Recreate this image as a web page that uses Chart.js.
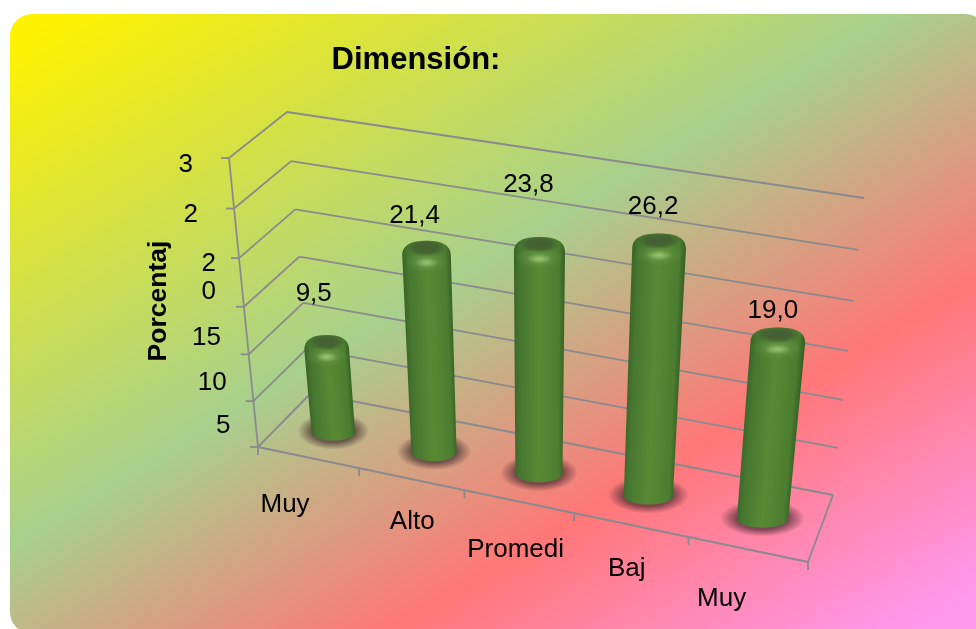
<!DOCTYPE html>
<html lang="es">
<head>
    <meta charset="UTF-8">
    <title>Dimensión</title>
    <script src="https://cdn.jsdelivr.net/npm/chart.js"></script>
    <style>
        html, body { margin: 0; padding: 0; background: #fff; }
        canvas { display: block; }
    </style>
</head>
<body>
    <canvas id="chart" width="976" height="629"></canvas>

    <script>
        const categories = ['Muy', 'Alto', 'Promedi', 'Baj', 'Muy'];
        const porcentajes = [9.5, 21.4, 23.8, 26.2, 19.0];
        const yTickValues = [5, 10, 15, 20, 25, 30];
        const yTickLabels = [['5'], ['10'], ['15'], ['2', '0'], ['2'], ['3']];
        const chartTitle = 'Dimensión:';
        const yTitle = 'Porcentaj';

        // Screen corners of the 3D box: front plane and back plane
        const frontPlane = { bl: [258, 447], br: [808, 562], tl: [229, 158], tr: [839, 270] };
        const backPlane = { bl: [311, 393], br: [833, 495], tl: [287, 112], tr: [864, 198] };
        const warpU = 1.11;
        const warpW = 1.06;
        const barDepth = 0.46;
        const barNudge = 2;

        // Hand placement of the text around the box
        const yLabelShift = [[-23, 25], [-22, 28], [-23, 31], [-23, 20], [-36, 6], [-36, 7]];
        const xLabelShift = [[-23, 47], [1, 43], [-3, 48], [-4, 44], [-26, 49]];
        const valueLabelShift = [[-13, -51], [-12, -35], [-11, -62], [-6, -37], [-5, -27]];

        const gridColor = '#8a8a8e';
        const textFont = '26px "Liberation Sans", Arial, sans-serif';

        function warp(f, c) {
            return f / (f + c * (1 - f));
        }

        function bilinear(q, a, b) {
            const bx = q.bl[0] + (q.br[0] - q.bl[0]) * a;
            const by = q.bl[1] + (q.br[1] - q.bl[1]) * a;
            const tx = q.tl[0] + (q.tr[0] - q.tl[0]) * a;
            const ty = q.tl[1] + (q.tr[1] - q.tl[1]) * a;
            return [bx + (tx - bx) * b, by + (ty - by) * b];
        }

        // u: along categories, w: height, t: depth; all 0..1
        function project(u, w, t) {
            const a = warp(u, warpU);
            const b = warp(w, warpW);
            const f = bilinear(frontPlane, a, b);
            const k = bilinear(backPlane, a, b);
            return [f[0] + (k[0] - f[0]) * t, f[1] + (k[1] - f[1]) * t];
        }

        function normU(chart, px) {
            return (px - chart.chartArea.left) / chart.chartArea.width;
        }

        function normW(chart, py) {
            return (chart.chartArea.bottom - py) / chart.chartArea.height;
        }

        function line(ctx, a, b) {
            ctx.beginPath();
            ctx.moveTo(a[0], a[1]);
            ctx.lineTo(b[0], b[1]);
            ctx.stroke();
        }

        function softEllipse(ctx, x, y, rx, ry, stops) {
            ctx.save();
            ctx.translate(x, y);
            ctx.scale(1, ry / rx);
            const grad = ctx.createRadialGradient(0, 0, 0, 0, 0, rx);
            stops.forEach(function (s) { grad.addColorStop(s[0], s[1]); });
            ctx.fillStyle = grad;
            ctx.beginPath();
            ctx.arc(0, 0, rx, 0, Math.PI * 2);
            ctx.fill();
            ctx.restore();
        }

        function drawBackground(ctx) {
            const grad = ctx.createLinearGradient(21, 34, 519, 865);
            grad.addColorStop(0, '#fff200');
            grad.addColorStop(0.448, '#a8d08d');
            grad.addColorStop(0.724, '#ff7777');
            grad.addColorStop(1, '#ff99ee');
            ctx.fillStyle = grad;
            ctx.beginPath();
            ctx.roundRect(10, 14, 977, 620, 22);
            ctx.fill();
        }

        function drawBox(chart) {
            const ctx = chart.ctx;
            const yScale = chart.scales.y;
            ctx.save();
            ctx.strokeStyle = gridColor;
            ctx.lineWidth = 1.8;

            // wall lines for every value tick
            [0].concat(yTickValues).forEach(function (v) {
                const w = normW(chart, yScale.getPixelForValue(v));
                const corner = project(0, w, 1);
                const front = project(0, w, 0);
                line(ctx, front, corner);
                line(ctx, corner, project(1, w, 1));
                line(ctx, front, [front[0] - 8, front[1]]);
            });

            // left upright and floor outline
            line(ctx, project(0, 0, 0), project(0, 1, 0));
            line(ctx, project(0, 0, 0), project(1, 0, 0));
            line(ctx, project(1, 0, 0), project(1, 0, 1));

            // category tick marks along the front edge
            for (let i = 0; i <= categories.length; i++) {
                const p = project(i / categories.length, 0, 0);
                line(ctx, p, [p[0], p[1] + 8]);
            }
            ctx.restore();
        }

        function barShape(chart, bar) {
            const uL = normU(chart, bar.x - bar.width / 2);
            const uR = normU(chart, bar.x + bar.width / 2);
            const uC = normU(chart, bar.x);
            const w = normW(chart, bar.y);
            const hw0 = (project(uR, 0, barDepth)[0] - project(uL, 0, barDepth)[0]) / 2;
            const hw1 = (project(uR, w, barDepth)[0] - project(uL, w, barDepth)[0]) / 2;
            const base = project(uC, 0, barDepth);
            const top = project(uC, w, barDepth);
            return {
                base: [base[0] + barNudge, base[1]],
                top: [top[0] + barNudge, top[1]],
                hw0: hw0,
                hw1: hw1
            };
        }

        function drawBarShadow(ctx, s) {
            softEllipse(ctx, s.base[0], s.base[1] - 1, s.hw0 * 1.65, 18.5, [
                [0, 'rgba(55,35,40,0.8)'],
                [0.62, 'rgba(55,35,40,0.62)'],
                [1, 'rgba(55,35,40,0)']
            ]);
        }

        function drawBar(ctx, s) {
            const capH = 10;
            const x0 = s.base[0], y0 = s.base[1];
            const x1 = s.top[0], y1 = s.top[1];

            ctx.save();
            ctx.beginPath();
            ctx.moveTo(x0 - s.hw0, y0);
            ctx.lineTo(x1 - s.hw1, y1 + 5);
            ctx.bezierCurveTo(x1 - s.hw1, y1 - capH * 0.6, x1 - s.hw1 * 0.62, y1 - capH, x1, y1 - capH);
            ctx.bezierCurveTo(x1 + s.hw1 * 0.62, y1 - capH, x1 + s.hw1, y1 - capH * 0.6, x1 + s.hw1, y1 + 5);
            ctx.lineTo(x0 + s.hw0, y0);
            ctx.ellipse(x0, y0, s.hw0, 8.5, 0, 0, Math.PI);
            ctx.closePath();
            ctx.clip();

            // body shading follows the lean of the cylinder
            ctx.save();
            const lean = (x1 - x0) / (y1 - y0);
            ctx.transform(1, 0, lean, 1, -lean * y0, 0);
            const shade = ctx.createLinearGradient(x0 - s.hw1, 0, x0 + s.hw1, 0);
            shade.addColorStop(0, '#3a6527');
            shade.addColorStop(0.12, '#477630');
            shade.addColorStop(0.5, '#588a35');
            shade.addColorStop(0.88, '#4c7d30');
            shade.addColorStop(1, '#375f24');
            ctx.fillStyle = shade;
            ctx.fillRect(x0 - 80, y1 - capH - 4, 160, y0 - y1 + capH + 20);
            ctx.restore();

            // lit band under the rim, then the dark disc on the top face
            softEllipse(ctx, x1, y1 + 11, s.hw1 * 0.95, 11, [
                [0, 'rgba(120,170,85,0.55)'],
                [1, 'rgba(120,170,85,0)']
            ]);
            softEllipse(ctx, x1, y1 + 12, s.hw1 * 0.5, 5, [
                [0, 'rgba(160,205,125,0.85)'],
                [1, 'rgba(160,205,125,0)']
            ]);
            softEllipse(ctx, x1, y1 - capH + 7, s.hw1 * 0.8, 9, [
                [0, 'rgba(66,92,50,0.95)'],
                [0.6, 'rgba(66,92,50,0.8)'],
                [1, 'rgba(66,92,50,0)']
            ]);

            ctx.restore();
        }

        function drawText(ctx, text, x, y) {
            ctx.fillText(text, x, y);
        }

        const box3d = {
            id: 'box3d',
            beforeDraw: function (chart) {
                drawBackground(chart.ctx);
            },
            beforeDatasetsDraw: function (chart) {
                drawBox(chart);
            },
            // the bars are drawn here through the box projection instead of flat
            beforeDatasetDraw: function (chart, args) {
                const ctx = chart.ctx;
                const shapes = args.meta.data.map(function (bar) {
                    return barShape(chart, bar);
                });
                shapes.forEach(function (s) { drawBarShadow(ctx, s); });
                shapes.forEach(function (s) { drawBar(ctx, s); });
                return false;
            },
            afterDatasetsDraw: function (chart) {
                const ctx = chart.ctx;
                const yScale = chart.scales.y;
                const bars = chart.getDatasetMeta(0).data;
                ctx.save();
                ctx.fillStyle = '#000';
                ctx.font = textFont;
                ctx.textAlign = 'center';
                ctx.textBaseline = 'middle';

                // value labels above the bars
                bars.forEach(function (bar, i) {
                    const s = barShape(chart, bar);
                    const text = porcentajes[i].toFixed(1).replace('.', ',');
                    drawText(ctx, text, s.top[0] + valueLabelShift[i][0], s.top[1] + valueLabelShift[i][1]);
                });

                // category labels under the front edge
                categories.forEach(function (name, i) {
                    const p = project((i + 0.5) / categories.length, 0, 0);
                    drawText(ctx, name, p[0] + xLabelShift[i][0], p[1] + xLabelShift[i][1]);
                });

                // value axis labels, some of them wrapped over two lines
                ctx.textAlign = 'right';
                yTickValues.forEach(function (v, i) {
                    const p = project(0, normW(chart, yScale.getPixelForValue(v)), 0);
                    yTickLabels[i].forEach(function (part, j) {
                        const off = (j - (yTickLabels[i].length - 1) / 2) * 28;
                        drawText(ctx, part, p[0] + yLabelShift[i][0], p[1] + yLabelShift[i][1] + off);
                    });
                });

                // rotated axis title
                ctx.save();
                ctx.translate(159, 301);
                ctx.rotate(-Math.PI / 2);
                ctx.textAlign = 'center';
                ctx.font = 'bold 26.5px "Liberation Sans", Arial, sans-serif';
                drawText(ctx, yTitle, 0, 0);
                ctx.restore();

                ctx.restore();
            }
        };

        new Chart(document.getElementById('chart'), {
            type: 'bar',
            data: {
                labels: categories,
                datasets: [{
                    label: yTitle,
                    data: porcentajes,
                    backgroundColor: '#588a35',
                    barPercentage: 0.44,
                    categoryPercentage: 1
                }]
            },
            options: {
                responsive: false,
                animation: false,
                devicePixelRatio: 1,
                layout: { padding: { right: 144 } },
                plugins: {
                    legend: { display: false },
                    tooltip: { enabled: false },
                    title: {
                        display: true,
                        text: chartTitle,
                        fullSize: false,
                        color: '#000',
                        font: { family: '"Liberation Sans", Arial, sans-serif', size: 31, weight: 'bold' },
                        padding: { top: 42, bottom: 10 }
                    }
                },
                scales: {
                    x: { display: false },
                    y: { display: false, min: 0, max: 30, ticks: { stepSize: 5 } }
                }
            },
            plugins: [box3d]
        });
    </script>
</body>
</html>
